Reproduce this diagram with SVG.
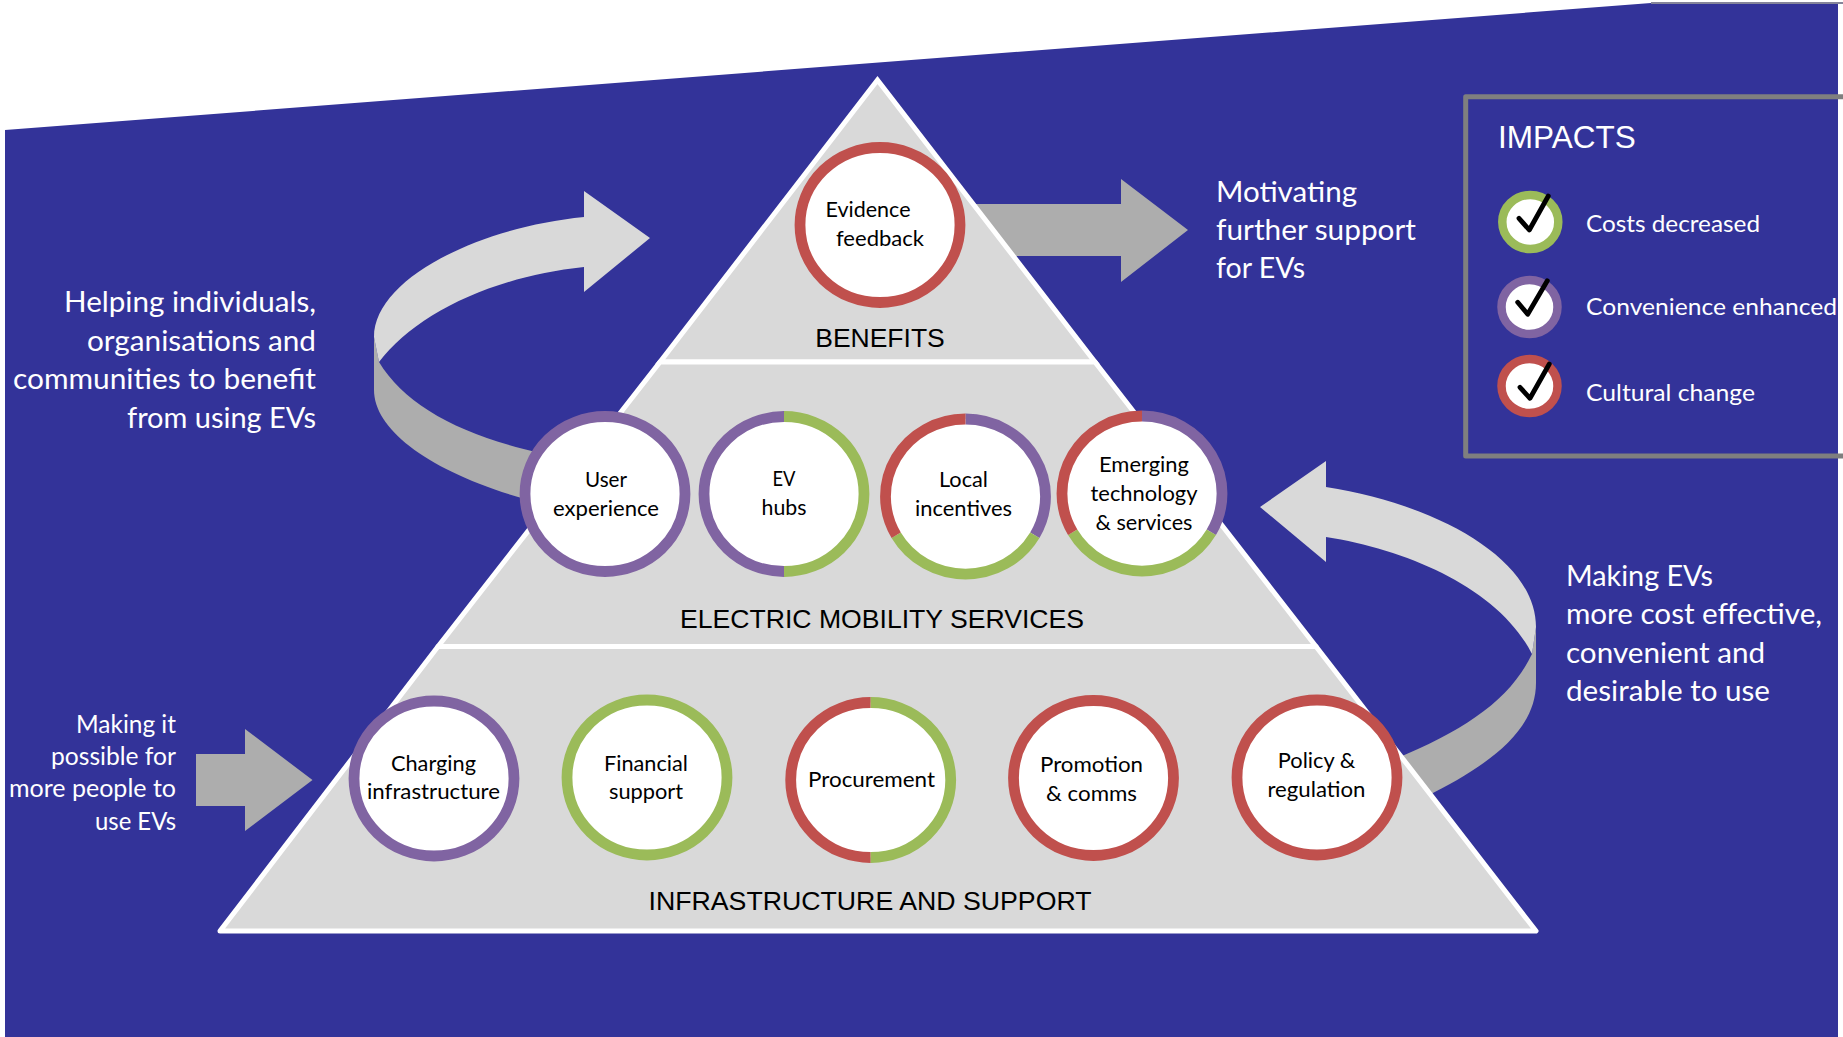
<svg xmlns="http://www.w3.org/2000/svg" width="1843" height="1037" viewBox="0 0 1843 1037">
<style>
.c{font-family:Lato,"Liberation Sans",sans-serif;font-size:22px;fill:#000;text-anchor:middle}
.s{font-family:Lato,"Liberation Sans",sans-serif;fill:#fff}
.s29{font-size:29px}.s25{font-size:24.5px}.s23{font-size:22.5px}
.e{text-anchor:end}
.h{font-family:"Liberation Sans",Arial,sans-serif;fill:#000;text-anchor:middle;font-size:26.5px}
.tier{fill:#d9d9d9;stroke:#fff;stroke-width:5;stroke-linejoin:round}
.disc{fill:#fff;stroke-width:10.8}
.ring{fill:none;stroke-width:10.8}
.P{stroke:#8064a2}.G{stroke:#9bbb59}.R{stroke:#c0504d}
.lt{fill:#d9d9d9}.dk{fill:#adadad}
.leg{fill:#fff;stroke-width:8.5}
.chk{fill:none;stroke:#000;stroke-width:4.8;stroke-linecap:round;stroke-linejoin:round}
</style>
<rect width="1843" height="1037" fill="#fff"/>
<path d="M5 130L1651 3H1838V1037H5Z" fill="#333399"/>
<path d="M1651 3H1843" stroke="#85859a" stroke-width="2" fill="none"/>
<g id="connectors">
<path class="dk" d="M960 204H1121V179L1188 230L1121 282V256H990Z"/>
<path class="dk" d="M196 754H245V729L312.5 780L245 831V806H196Z"/>
<path class="dk" d="M374 337V390C374 430 430 472 525 499L540 453C460 435 405 405 379 362Z"/>
<path class="lt" d="M584 217V191L650 238L584 292V267C490 277 415 315 379 362L374 337C374 280 475 228 584 217Z"/>
<path class="dk" d="M1536 627V683C1536 730 1490 765 1425 797L1395 759C1465 730 1510 700 1532 654Z"/>
<path class="lt" d="M1326 487V461L1260 507L1326 562V537C1410 550 1500 590 1532 654L1536 627C1536 560 1440 505 1326 487Z"/>
</g>
<g id="tier-benefits">
<polygon class="tier" style="stroke-linejoin:miter" points="877.5,80 660,362 1095,362"/>
<text class="h" x="880" y="346.5">BENEFITS</text>
</g>
<g id="tier-services">
<polygon class="tier" points="660,362 1095,362 1316,646.5 438,646.5"/>
<text class="h" x="882" y="627.5" textLength="404" lengthAdjust="spacingAndGlyphs">ELECTRIC MOBILITY SERVICES</text>
</g>
<g id="tier-infrastructure">
<polygon class="tier" points="438,646.5 1316,646.5 1536,931 220,931"/>
<text class="h" x="870" y="909.5" textLength="443" lengthAdjust="spacingAndGlyphs">INFRASTRUCTURE AND SUPPORT</text>
</g>
<g id="node-evidence">
<ellipse class="disc R" cx="880" cy="225" rx="80" ry="77.5"/>
<text class="c" x="868" y="217" textLength="85" lengthAdjust="spacingAndGlyphs">Evidence</text>
<text class="c" x="880" y="245.5" textLength="88" lengthAdjust="spacingAndGlyphs">feedback</text>
</g>
<g id="node-user">
<ellipse class="disc P" cx="605" cy="494" rx="80" ry="77.5"/>
<text class="c" x="606" y="486.5" textLength="42" lengthAdjust="spacingAndGlyphs">User</text>
<text class="c" x="606" y="515.5" textLength="106" lengthAdjust="spacingAndGlyphs">experience</text>
</g>
<g id="node-hubs">
<ellipse class="disc" cx="784" cy="494" rx="80" ry="77.5" stroke="none"/>
<path class="ring P" d="M784 416.5A80 77.5 0 0 0 784 571.5"/>
<path class="ring G" d="M784 416.5A80 77.5 0 0 1 784 571.5"/>
<text class="c" x="784" y="486" textLength="23" lengthAdjust="spacingAndGlyphs">EV</text>
<text class="c" x="784" y="515" textLength="45" lengthAdjust="spacingAndGlyphs">hubs</text>
</g>
<g id="node-local">
<ellipse class="disc" cx="965.5" cy="496.5" rx="80" ry="77.5" stroke="none"/>
<path class="ring P" d="M965.5 419A80 77.5 0 0 1 1034.8 535.25"/>
<path class="ring G" d="M1034.8 535.25A80 77.5 0 0 1 896.2 535.25"/>
<path class="ring R" d="M896.2 535.25A80 77.5 0 0 1 965.5 419"/>
<text class="c" x="963.5" y="487" textLength="49" lengthAdjust="spacingAndGlyphs">Local</text>
<text class="c" x="963.5" y="515.5" textLength="97" lengthAdjust="spacingAndGlyphs">incentives</text>
</g>
<g id="node-emerging">
<ellipse class="disc" cx="1142" cy="493.5" rx="80" ry="77.5" stroke="none"/>
<path class="ring P" d="M1142 416A80 77.5 0 0 1 1211.3 532.25"/>
<path class="ring G" d="M1211.3 532.25A80 77.5 0 0 1 1072.7 532.25"/>
<path class="ring R" d="M1072.7 532.25A80 77.5 0 0 1 1142 416"/>
<text class="c" x="1144" y="471.5" textLength="90" lengthAdjust="spacingAndGlyphs">Emerging</text>
<text class="c" x="1144" y="501" textLength="107" lengthAdjust="spacingAndGlyphs">technology</text>
<text class="c" x="1144" y="530" textLength="97" lengthAdjust="spacingAndGlyphs">&amp; services</text>
</g>
<g id="node-charging">
<ellipse class="disc P" cx="434" cy="778.5" rx="80" ry="77.5"/>
<text class="c" x="433.5" y="770.5" textLength="85" lengthAdjust="spacingAndGlyphs">Charging</text>
<text class="c" x="433.5" y="799" textLength="133" lengthAdjust="spacingAndGlyphs">infrastructure</text>
</g>
<g id="node-financial">
<ellipse class="disc G" cx="647" cy="777.5" rx="80" ry="77.5"/>
<text class="c" x="646" y="770.5" textLength="84" lengthAdjust="spacingAndGlyphs">Financial</text>
<text class="c" x="646" y="799" textLength="74" lengthAdjust="spacingAndGlyphs">support</text>
</g>
<g id="node-procurement">
<ellipse class="disc" cx="870.7" cy="780" rx="80" ry="77.5" stroke="none"/>
<path class="ring R" d="M870.7 702.5A80 77.5 0 0 0 870.7 857.5"/>
<path class="ring G" d="M870.7 702.5A80 77.5 0 0 1 870.7 857.5"/>
<text class="c" x="871.5" y="786.5" textLength="127" lengthAdjust="spacingAndGlyphs">Procurement</text>
</g>
<g id="node-promotion">
<ellipse class="disc R" cx="1093.5" cy="778" rx="80" ry="77.5"/>
<text class="c" x="1091.5" y="771.5" textLength="103" lengthAdjust="spacingAndGlyphs">Promotion</text>
<text class="c" x="1091.5" y="801" textLength="91" lengthAdjust="spacingAndGlyphs">&amp; comms</text>
</g>
<g id="node-policy">
<ellipse class="disc R" cx="1317" cy="777.5" rx="80" ry="77.5"/>
<text class="c" x="1316.5" y="768" textLength="77.5" lengthAdjust="spacingAndGlyphs">Policy &amp;</text>
<text class="c" x="1316.5" y="796.5" textLength="98" lengthAdjust="spacingAndGlyphs">regulation</text>
</g>
<g id="text-helping">
<text class="s s29 e" x="316" y="311.5" textLength="252" lengthAdjust="spacingAndGlyphs">Helping individuals,</text>
<text class="s s29 e" x="316" y="350.5" textLength="229" lengthAdjust="spacingAndGlyphs">organisations and</text>
<text class="s s29 e" x="316" y="389" textLength="303" lengthAdjust="spacingAndGlyphs">communities to benefit</text>
<text class="s s29 e" x="316" y="428" textLength="189" lengthAdjust="spacingAndGlyphs">from using EVs</text>
</g>
<g id="text-making-possible">
<text class="s s25 e" x="176" y="732.5" textLength="100" lengthAdjust="spacingAndGlyphs">Making it</text>
<text class="s s25 e" x="176" y="765" textLength="125" lengthAdjust="spacingAndGlyphs">possible for</text>
<text class="s s25 e" x="176" y="797" textLength="167" lengthAdjust="spacingAndGlyphs">more people to</text>
<text class="s s25 e" x="176" y="830" textLength="81" lengthAdjust="spacingAndGlyphs">use EVs</text>
</g>
<g id="text-motivating">
<text class="s s29" x="1216" y="202" textLength="141" lengthAdjust="spacingAndGlyphs">Motivating</text>
<text class="s s29" x="1216" y="240" textLength="200" lengthAdjust="spacingAndGlyphs">further support</text>
<text class="s s29" x="1216" y="278" textLength="89" lengthAdjust="spacingAndGlyphs">for EVs</text>
</g>
<g id="text-making-cost">
<text class="s s29" x="1566" y="586" textLength="147" lengthAdjust="spacingAndGlyphs">Making EVs</text>
<text class="s s29" x="1566" y="624" textLength="256" lengthAdjust="spacingAndGlyphs">more cost effective,</text>
<text class="s s29" x="1566" y="662.5" textLength="199" lengthAdjust="spacingAndGlyphs">convenient and</text>
<text class="s s29" x="1566" y="700.5" textLength="204" lengthAdjust="spacingAndGlyphs">desirable to use</text>
</g>
<g id="impacts">
<path d="M1843 96.7H1465.7V456H1843" fill="none" stroke="#7f7f7f" stroke-width="5" stroke-linejoin="round"/>
<text x="1498" y="148" font-family="Liberation Sans,Arial,sans-serif" font-size="31.5" fill="#fff">IMPACTS</text>
<ellipse class="leg G" cx="1530.3" cy="222" rx="28" ry="27"/>
<path class="chk" d="M1519 218.3L1529.3 230L1548.3 196"/>
<text class="s s23" x="1586" y="231.5" textLength="174" lengthAdjust="spacingAndGlyphs">Costs decreased</text>
<ellipse class="leg P" cx="1529.5" cy="307" rx="28" ry="27"/>
<path class="chk" d="M1517.7 302.3L1527.7 314.3L1547.3 280.7"/>
<text class="s s23" x="1586" y="315" textLength="251" lengthAdjust="spacingAndGlyphs">Convenience enhanced</text>
<ellipse class="leg R" cx="1529.5" cy="386" rx="28" ry="27"/>
<path class="chk" d="M1520 387.3L1530 398.3L1549.3 364"/>
<text class="s s23" x="1586" y="400.5" textLength="169" lengthAdjust="spacingAndGlyphs">Cultural change</text>
</g>
</svg>
